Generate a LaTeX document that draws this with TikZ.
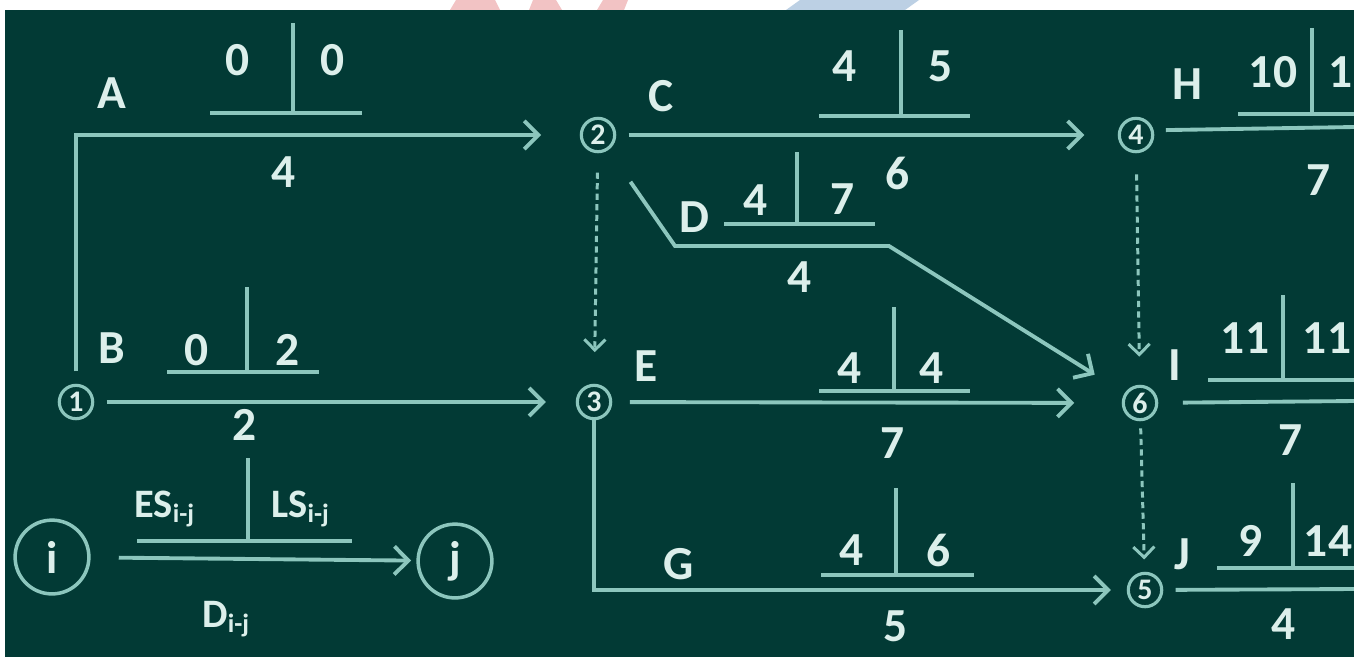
\documentclass[tikz,border=0pt]{standalone}
\usepackage{fontspec}
\setmainfont{Carlito}
\usetikzlibrary{arrows.meta}
\definecolor{bg}{HTML}{023A35}
\definecolor{ln}{HTML}{8CC6BD}
\definecolor{tx}{HTML}{DCEFEB}
\definecolor{pk}{HTML}{F2C3C4}
\definecolor{bl}{HTML}{BCD0E4}

\begin{document}
\begin{tikzpicture}[x=0.02cm, y=-0.02cm,
	ev/.style={circle, draw=ln, line width=1.8pt, inner sep=0pt, minimum size=19pt, text=tx, font=\fontsize{17}{17}\selectfont\bfseries},
	big/.style={circle, draw=ln, line width=2pt, inner sep=0pt, minimum size=42pt, text=tx, font=\fontsize{26}{26}\selectfont\bfseries},
	lbl/.style={text=tx, inner sep=0pt, font=\fontsize{27}{27}\selectfont\bfseries},
	sml/.style={text=tx, inner sep=0pt, font=\fontsize{23}{23}\selectfont\bfseries},
	act/.style={draw=ln, line width=2.2pt, -{Straight Barb[length=8pt, width=16pt]}},
	dum/.style={draw=ln, line width=1.7pt, dash pattern=on 3.5pt off 2.5pt, -{Straight Barb[length=6pt, width=12pt]}},
	bar/.style={draw=ln, line width=2.2pt}]
			\useasboundingbox (0,0) rectangle (1354,657);
			\clip (0,0) rectangle (1354,657);
			\fill[white] (0,0) rectangle (1354,657);
			\fill[pk] (450,10) -- (456,0) -- (495,0) -- (500,10) -- cycle;
			\fill[pk] (529,10) -- (533,0) -- (556,0) -- (562,10) -- cycle;
			\fill[pk] (597,10) -- (603,0) -- (628,0) -- (624,10) -- cycle;
			\fill[bl] (786,10) -- (800,0) -- (919,0) -- (905,10) -- cycle;
			\fill[bg] (5,10) rectangle (1354,657);

			\node[ev] (n1) at (76,402) {1};
			\node[ev] (n2) at (598,135) {2};
			\node[ev] (n3) at (594,402) {3};
			\node[ev] (n4) at (1136,135) {4};
			\node[ev] (n6) at (1140,403) {6};
			\node[ev] (n5) at (1145,590) {5};
			\node[big] (ni) at (52,557) {i};
			\node[big] (nj) at (455,561) {j};

			\coordinate (d1) at (675,246);
			\coordinate (d2) at (889,246);
			\coordinate (hEnd) at (1354,127);
			\coordinate (iEnd) at (1354,401);
			\coordinate (jEnd) at (1354,589);

			\draw[act, shorten <=7pt, shorten >=22pt] (n1) |- (n2);
			\path (n1) edge [act, shorten <=7pt, shorten >=17pt] (n3);
			\path (n2) edge [act, shorten <=7pt, shorten >=19pt] (n4);
			\draw[act, shorten <=22pt, shorten >=20pt] (n2) -- (d1) -- (d2) -- (n6);
			\path (n2) edge [dum, shorten <=11pt, shorten >=18pt] (n3);
			\path (n4) edge [dum, shorten <=12pt, shorten >=16pt] (n6);
			\path (n6) edge [dum, shorten <=4pt, shorten >=7pt] (n5);
			\path (n3) edge [act, shorten <=10pt, shorten >=27pt] (n6);
			\draw[act, shorten >=9pt] (n3) |- (n5);
			\draw[bar, shorten <=7pt] (n4.15) -- (hEnd);
			\draw[bar, shorten <=14pt] (n6) -- (iEnd);
			\draw[bar, shorten <=7pt] (n5) -- (jEnd);
			\path (ni) edge [act, shorten <=16pt, shorten >=3pt] (nj);

			\draw[bar] (210,113) -- (362,113) (293,23) -- (293,113);
			\draw[bar] (167,372) -- (319,372) (247,287) -- (247,372);
			\draw[bar] (819,116) -- (970,116) (901,30) -- (901,116);
			\draw[bar] (724,224) -- (875,224) (797,152) -- (797,224);
			\draw[bar] (819,391) -- (970,391) (894,307) -- (894,391);
			\draw[bar] (821,575) -- (974,575) (896,488) -- (896,575);
			\draw[bar] (1238,114) -- (1354,114) (1312,28) -- (1312,114);
			\draw[bar] (1208,380) -- (1354,380) (1283,295) -- (1283,380);
			\draw[bar] (1217,568) -- (1354,568) (1293,483) -- (1293,568);
			\draw[bar] (137,541) -- (352,541) (248,458) -- (248,541);

			\node[lbl] (lA) at (112,93) {A};
			\node[lbl] (esA) at (238,60) {0};
			\node[lbl] (lsA) at (333,60) {0};
			\node[lbl] (dA) at (284,172) {4};
			\node[lbl] (lB) at (112,348) {B};
			\node[lbl] (esB) at (197,350) {0};
			\node[lbl] (lsB) at (288,350) {2};
			\node[lbl] (dB) at (245,425) {2};
			\node[lbl] (lC) at (661,96) {C};
			\node[lbl] (esC) at (845,66) {4};
			\node[lbl] (lsC) at (941,66) {5};
			\node[lbl] (dC) at (898,173) {6};
			\node[lbl] (lD) at (694,217) {D};
			\node[lbl] (esD) at (756,200) {4};
			\node[lbl] (lsD) at (843,199) {7};
			\node[lbl] (dD) at (800,277) {4};
			\node[lbl] (lE) at (646,366) {E};
			\node[lbl] (esE) at (850,368) {4};
			\node[lbl] (lsE) at (932,368) {4};
			\node[lbl] (dE) at (893,443) {7};
			\node[lbl] (lG) at (679,564) {G};
			\node[lbl] (esG) at (852,550) {4};
			\node[lbl] (lsG) at (939,550) {6};
			\node[lbl] (dG) at (896,626) {5};
			\node[lbl] (lH) at (1187,84) {H};
			\node[lbl] (esH) at (1273,72) {10};
			\node[lbl, anchor=east] (lsH) at (1353,72) {1};
			\node[lbl] (dH) at (1318,180) {7};
			\node[lbl] (lI) at (1175,365) {I};
			\node[lbl] (esI) at (1245,338) {11};
			\node[lbl] (lsI) at (1327,338) {11};
			\node[lbl] (dI) at (1290,440) {7};
			\node[lbl] (lJ) at (1182,554) {J};
			\node[lbl] (esJ) at (1250,541) {9};
			\node[lbl] (lsJ) at (1328,541) {14};
			\node[lbl] (dJ) at (1283,624) {4};
			\node[sml, anchor=base west] (es) at (134,517) {ES\raisebox{-0.3ex}{\fontsize{15}{15}\selectfont i-j}};
			\node[sml, anchor=base west] (ls) at (271,517) {LS\raisebox{-0.3ex}{\fontsize{15}{15}\selectfont i-j}};
			\node[sml, anchor=base west] (dur) at (202,627) {D\raisebox{-0.3ex}{\fontsize{15}{15}\selectfont i-j}};
			\end{tikzpicture}
\end{document}
